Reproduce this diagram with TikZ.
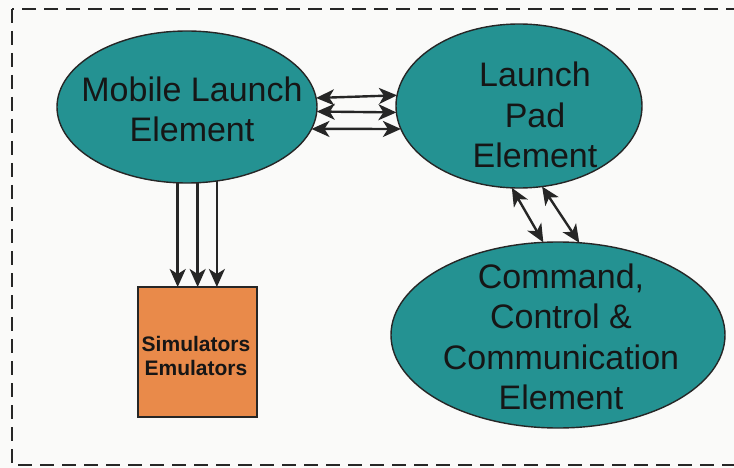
\documentclass[tikz,border=0pt]{standalone}
\usepackage{fontspec}
\setmainfont{Liberation Sans}
\usetikzlibrary{arrows.meta,shapes.geometric}
\definecolor{tealfill}{RGB}{36,146,146}
\definecolor{orangefill}{RGB}{233,138,74}
\definecolor{linec}{RGB}{38,38,38}
\definecolor{bgc}{RGB}{250,250,249}
\definecolor{textc}{RGB}{22,22,22}
\begin{document}
\begin{tikzpicture}[x=1pt,y=-1pt,
  elem/.style={ellipse, draw=linec, line width=1.4pt, fill=tealfill, inner sep=0pt, outer sep=0pt},
  elemtext/.style={text=textc, align=center, inner sep=0pt, font=\fontsize{34}{40.5}\selectfont},
  simbox/.style={rectangle, draw=linec, line width=1.6pt, fill=orangefill, inner sep=0pt, outer sep=0pt, minimum width=119pt, minimum height=130pt},
  simtext/.style={text=textc, align=center, inner sep=0pt, font=\fontsize{21}{23.5}\selectfont\bfseries},
  conn/.style={draw=linec, line width=2.4pt},
  both/.style={conn, arrows={Stealth[length=18pt,width=16pt,inset=5pt]-Stealth[length=18pt,width=16pt,inset=5pt]}},
  one/.style={conn, arrows={-Stealth[length=18pt,width=16pt,inset=5pt]}},
  border/.style={draw=linec, line width=2.4pt, dash pattern=on 14pt off 8pt}]
\useasboundingbox (0,0) rectangle (734,468);
\fill[bgc] (0,0) rectangle (734,468);
\begin{scope}
\clip (0,0) rectangle (734,468);
\draw[border] (12,9) rectangle (745,465);
\end{scope}
% elements
\node[elem, minimum width=260pt, minimum height=152pt] (mle) at (187,107) {};
\node[elem, minimum width=246pt, minimum height=164pt] (lpe) at (519,106) {};
\node[elem, minimum width=334pt, minimum height=186pt] (cce) at (558,335) {};
\node[simbox] (sim) at (197.5,352) {};
% texts
\node[elemtext] (mlet) at (192,109.5) {Mobile Launch\\Element};
\node[elemtext] (lpet) at (535,115) {Launch\\Pad\\Element};
\node[elemtext] (ccet) at (561,337) {Command,\\Control \&\\Communication\\Element};
\node[simtext] (simt) at (196,356) {Simulators\\Emulators};
% horizontal links
\draw[both] (mle.4.9) -- (lpe.175.3);
\draw[both] (mle.-2.65) -- (lpe.183.27);
\draw[both] (mle.-10.5) -- (lpe.191.5);
% down links
\draw[one] (mle.263.2) -- (mle.263.2 |- sim.north);
\draw[one] (mle.278.3) -- (mle.278.3 |- sim.north);
\draw[one] (mle.292.8) -- (mle.292.8 |- sim.north);
% diagonal links
\draw[both] (lpe.265.8) -- (cce.99.8);
\draw[both] (lpe.286.6) -- (cce.77.2);
\end{tikzpicture}
\end{document}
